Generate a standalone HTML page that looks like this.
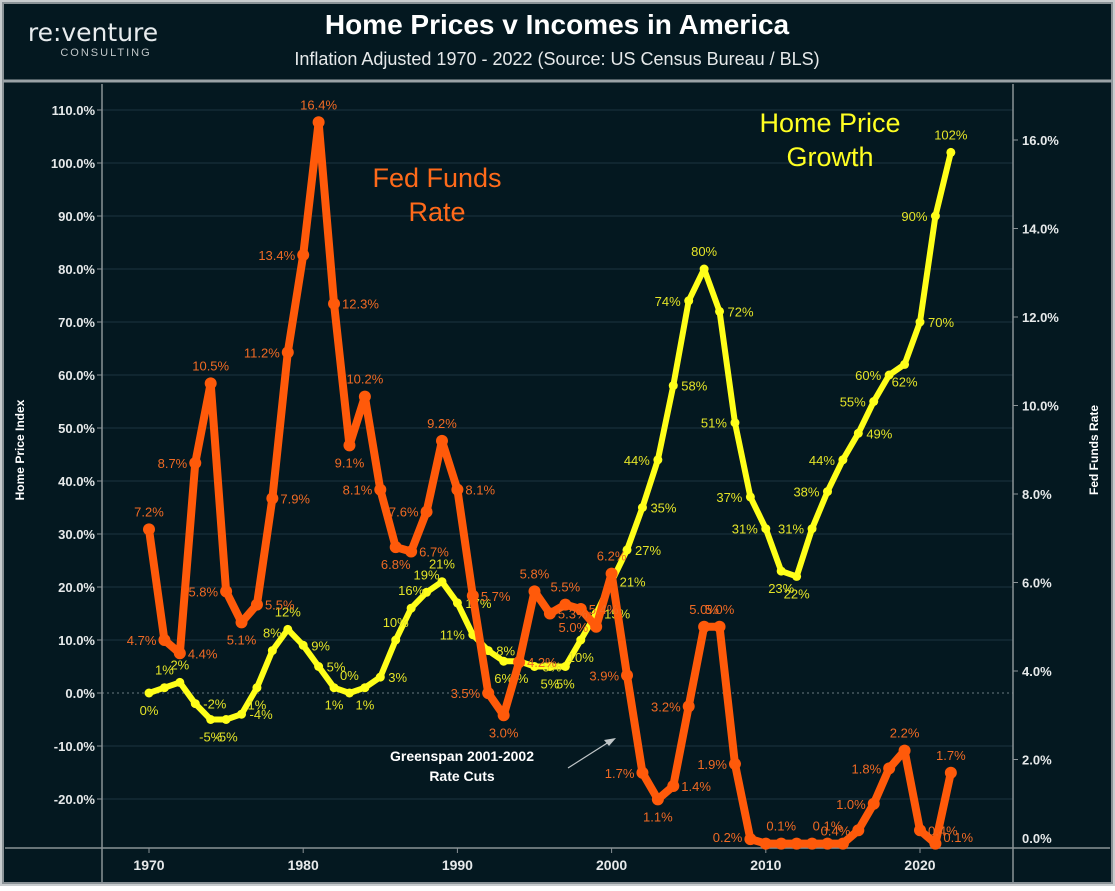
<!DOCTYPE html>
<html><head><meta charset="utf-8"><style>
html,body{margin:0;padding:0;background:#fff}
body{width:1115px;height:886px;overflow:hidden;font-family:"Liberation Sans",sans-serif}
</style></head><body>
<svg id="chart" width="1115" height="886" xmlns="http://www.w3.org/2000/svg">
<rect x="0" y="0" width="1115" height="886" fill="#c8ccce"/>
<rect x="3" y="3" width="1109" height="880" fill="#041820" stroke="#8a9296" stroke-width="2"/>
<line x1="3" y1="81" x2="1112" y2="81" stroke="#9aa2a6" stroke-width="3"/>
<g>
<text x="93" y="41" fill="#e8ecee" font-size="25" text-anchor="middle" font-family="DejaVu Sans, sans-serif">re:venture</text>
<text x="106" y="56" fill="#c0c6c8" font-size="11" text-anchor="middle" letter-spacing="2">CONSULTING</text>
</g>
<text x="557" y="34" fill="#ffffff" font-size="28" font-weight="bold" text-anchor="middle">Home Prices v Incomes in America</text>
<text x="557" y="65" fill="#e6e9ea" font-size="18" text-anchor="middle">Inflation Adjusted 1970 - 2022 (Source: US Census Bureau / BLS)</text>
<g id="grid"></g>
<line x1="102" y1="84" x2="102" y2="882" stroke="#8a9296" stroke-width="1.5"/>
<line x1="1013" y1="84" x2="1013" y2="882" stroke="#8a9296" stroke-width="1.5"/>
<line x1="5" y1="848" x2="1110" y2="848" stroke="#8a9296" stroke-width="1.5"/>
<text transform="translate(24,450) rotate(-90)" fill="#ffffff" font-size="12" font-weight="bold" text-anchor="middle">Home Price Index</text>
<text transform="translate(1098,450) rotate(-90)" fill="#ffffff" font-size="12" font-weight="bold" text-anchor="middle">Fed Funds Rate</text>
<g id="axes"></g>
<g id="series"></g>
<g>
<text x="437" y="187" fill="#ff6a1a" font-size="27" text-anchor="middle">Fed Funds</text>
<text x="437" y="221" fill="#ff6a1a" font-size="27" text-anchor="middle">Rate</text>
</g>
<g>
<text x="830" y="132" fill="#ffff22" font-size="27" text-anchor="middle">Home Price</text>
<text x="830" y="166" fill="#ffff22" font-size="27" text-anchor="middle">Growth</text>
</g>
<g>
<text x="462" y="761" fill="#ffffff" font-size="14" font-weight="bold" text-anchor="middle">Greenspan 2001-2002</text>
<text x="462" y="781" fill="#ffffff" font-size="14" font-weight="bold" text-anchor="middle">Rate Cuts</text>
<line x1="568" y1="768" x2="612" y2="740" stroke="#c0c6c8" stroke-width="1.2"/>
<polygon points="616,738 604,740 609,746" fill="#c0c6c8"/>
</g>
</svg>
<script>
const years=[];for(let y=1970;y<=2022;y++)years.push(y);
const fedRate=[7.2,4.7,4.4,8.7,10.5,5.8,5.1,5.5,7.9,11.2,13.4,16.4,12.3,9.1,10.2,8.1,6.8,6.7,7.6,9.2,8.1,5.7,3.5,3.0,4.2,5.8,5.3,5.5,5.4,5.0,6.2,3.9,1.7,1.1,1.4,3.2,5.0,5.0,1.9,0.2,0.1,0.1,0.1,0.1,0.1,0.1,0.4,1.0,1.8,2.2,0.4,0.1,1.7];
const homePrice=[0,1,2,-2,-5,-5,-4,1,8,12,9,5,1,0,1,3,10,16,19,21,17,11,8,6,6,5,5,5,10,15,21,27,35,44,58,74,80,72,51,37,31,23,22,31,38,44,49,55,60,62,70,90,102];
const fedLabelSide=['a','l','r','l','a','l','b','r','r','l','l','a','r','b','a','l','b','r','l','a','r','r','l','b','r','a','r','a','r','l','a','l','l','b','r','l','a','a','l','l','n','a','n','n','a','n','l','l','l','a','r','r','a'];
const homeLabelSide=['b','a','a','r','b','b','r','b','a','a','r','r','b','a','b','r','a','a','a','a','r','l','r','b','b','r','b','b','b','r','r','r','r','l','r','l','a','r','l','l','l','b','b','l','l','l','r','l','l','b','r','l','a'];
const leftTicks=[-20,-10,0,10,20,30,40,50,60,70,80,90,100,110];
const rightTicks=[0,2,4,6,8,10,12,14,16];
const xTicks=[1970,1980,1990,2000,2010,2020];
const NS='http://www.w3.org/2000/svg';
const xS=y=>149+(y-1970)*15.42;
const yL=v=>693-v*5.3;
const yR=v=>848-v*44.25;
function mk(tag,attrs,parent){const e=document.createElementNS(NS,tag);for(const k in attrs)e.setAttribute(k,attrs[k]);parent.appendChild(e);return e;}
const grid=document.getElementById('grid'),axes=document.getElementById('axes'),series=document.getElementById('series');
leftTicks.forEach(v=>{
  const gl=mk('line',{x1:102,x2:1013,y1:yL(v),y2:yL(v),stroke:v===0?'#6a7a80':'#1c3440','stroke-width':1,'stroke-dasharray':v===0?'2,3':'none'},grid);
  
  
  mk('line',{x1:97,x2:102,y1:yL(v),y2:yL(v),stroke:'#8a9296'},axes);
  const t=mk('text',{x:95,y:yL(v)+5,fill:'#e6e9ea','font-size':13,'font-weight':'bold','text-anchor':'end'},axes);
  t.textContent=v.toFixed(1)+'%';
  
  
});
rightTicks.forEach(v=>{
  mk('line',{x1:1013,x2:1018,y1:yR(v),y2:yR(v),stroke:'#8a9296'},axes);
  const t=mk('text',{x:1022,y:yR(v)+5-(v===0?10:0),fill:'#e6e9ea','font-size':13,'font-weight':'bold'},axes);
  t.textContent=v.toFixed(1)+'%';
  
  
});
xTicks.forEach(y=>{
  mk('line',{x1:xS(y),x2:xS(y),y1:848,y2:853,stroke:'#8a9296'},axes);
  const t=mk('text',{x:xS(y),y:870,fill:'#e6e9ea','font-size':14,'font-weight':'bold','text-anchor':'middle'},axes);
  t.textContent=y;
  
  
});
function off(s){return s==='a'?[0,-13,'middle']:s==='b'?[0,22,'middle']:s==='l'?[-8,5,'end']:[8,5,'start'];}
function drawSeries(vals,yf,color,lblColor,w,sides,fmt,name){
  const pts=vals.map((v,i)=>xS(years[i])+','+yf(v)).join(' ');
  const pl=mk('polyline',{points:pts,fill:'none',stroke:color,'stroke-width':w,'stroke-linejoin':'round','stroke-linecap':'round'},series);
  
  
  vals.forEach((v,i)=>{
    const c=mk('circle',{cx:xS(years[i]),cy:yf(v),r:w*0.75,fill:color},series);
    
    
  });
  vals.forEach((v,i)=>{
    if(sides[i]==='n')return;
    const o=off(sides[i]);
    let yy=yf(v)+o[1];
    if(yy>842)yy=842;
    const t=mk('text',{x:xS(years[i])+o[0],y:yy,fill:lblColor,'font-size':13,'text-anchor':o[2]},series);
    t.textContent=fmt(v);
    
    
  });
}
drawSeries(homePrice,yL,'#ffff1a','#e4e428',6,homeLabelSide,v=>v+'%','home-price');
drawSeries(fedRate,yR,'#ff5a0a','#f06a24',8,fedLabelSide,v=>v.toFixed(1)+'%','fed-funds');
</script>
</body></html>
